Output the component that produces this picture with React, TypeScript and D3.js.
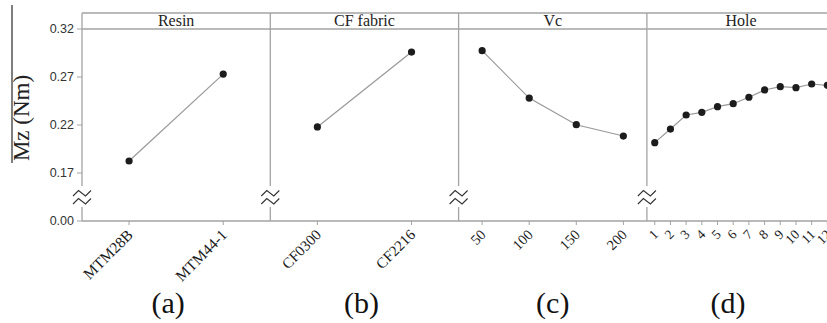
import React from "react";
import * as d3 from "d3";

const resinLevels = ["MTM28B", "MTM44-1"];
const resinMz = [0.1825, 0.273];
const fabricLevels = ["CF0300", "CF2216"];
const fabricMz = [0.218, 0.296];
const vcLevels = ["50", "100", "150", "200"];
const vcMz = [0.2974, 0.248, 0.2203, 0.2085];
const holeLevels = ["1", "2", "3", "4", "5", "6", "7", "8", "9", "10", "11", "12"];
const holeMz = [0.2016, 0.2158, 0.2304, 0.2332, 0.2391, 0.2422, 0.2489, 0.2565, 0.2599, 0.2589, 0.2627, 0.2613];
const panelTitles = ["Resin", "CF fabric", "Vc", "Hole"];
const panelTags = ["(a)", "(b)", "(c)", "(d)"];
const yTicks = [0.17, 0.22, 0.27, 0.32];
const yBreakTick = "0.00";

const W = 827;
const H = 323;
const left = 82;
const panelW = 188.3;
const top = 13;
const headerBottom = 29;
const axisY = 221;
const breakY = 197;
const tagOffsets = [-8, -3, 0, -13];
const frame = "#a3a3a3";

export default function App() {
  const y = d3.scaleLinear().domain([0.17, 0.32]).range([173, 29]);
  const panels = [
    { levels: resinLevels, values: resinMz, fs: 15.5 },
    { levels: fabricLevels, values: fabricMz, fs: 15 },
    { levels: vcLevels, values: vcMz, fs: 14.5 },
    { levels: holeLevels, values: holeMz, fs: 13.5 },
  ];
  const line = d3.line<[number, number]>().x((d) => d[0]).y((d) => d[1]);

  const zig = (x: number, yc: number) =>
    `M${x - 9},${yc + 3} L${x - 3.5},${yc - 2.5} L${x + 3.5},${yc + 3} L${x + 9},${yc - 2.5}`;

  return (
    <svg
      width={W}
      height={H}
      style={{ position: "absolute", left: 0, top: 0, background: "#fff" }}
      fontFamily="'Liberation Serif', 'Times New Roman', serif"
    >
      <rect width={W} height={H} fill="#fff" />
      <line x1={12} x2={12} y1={5} y2={163} stroke="#555" strokeWidth={1.5} />
      <text
        transform={`translate(29,${118}) rotate(-90)`}
        textAnchor="middle"
        fontSize={23}
        fill="#222"
      >
        Mz (Nm)
      </text>
      {yTicks.map((t) => (
        <g key={t}>
          <line x1={77} x2={left} y1={y(t)} y2={y(t)} stroke={frame} />
          <text
            x={74}
            y={y(t)}
            dy="0.35em"
            textAnchor="end"
            fontSize={12.5}
            fontFamily="'Liberation Sans', Arial, sans-serif"
            fill="#333"
          >
            {t.toFixed(2)}
          </text>
        </g>
      ))}
      <line x1={77} x2={left} y1={axisY} y2={axisY} stroke={frame} />
      <text
        x={74}
        y={axisY}
        dy="0.35em"
        textAnchor="end"
        fontSize={12.5}
        fontFamily="'Liberation Sans', Arial, sans-serif"
        fill="#333"
      >
        {yBreakTick}
      </text>
      <line x1={left} x2={W} y1={top} y2={top} stroke={frame} strokeWidth={1.3} />
      <line x1={left} x2={W} y1={headerBottom} y2={headerBottom} stroke={frame} strokeWidth={1.3} />
      <line x1={left} x2={W} y1={axisY} y2={axisY} stroke={frame} strokeWidth={1.3} />
      {panels.map((p, i) => {
        const x0 = left + i * panelW;
        const x = d3.scalePoint<string>().domain(p.levels).range([x0, x0 + panelW]).padding(0.5);
        const pts: [number, number][] = p.levels.map((l, j) => [x(l) as number, y(p.values[j])]);
        return (
          <g key={i}>
            <line x1={x0} x2={x0} y1={top} y2={breakY - 11} stroke={frame} strokeWidth={1.3} />
            <line x1={x0} x2={x0} y1={breakY + 10} y2={axisY} stroke={frame} strokeWidth={1.3} />
            <path d={zig(x0, breakY - 4)} fill="none" stroke="#333" strokeWidth={1.1} />
            <path d={zig(x0, breakY + 4)} fill="none" stroke="#333" strokeWidth={1.1} />
            <text x={x0 + panelW / 2} y={26} textAnchor="middle" fontSize={16} fill="#222">
              {panelTitles[i]}
            </text>
            <path d={line(pts) || ""} fill="none" stroke="#999" strokeWidth={1.2} />
            {pts.map((pt, j) => (
              <circle key={j} cx={pt[0]} cy={pt[1]} r={3.6} fill="#1c1c1c" />
            ))}
            {p.levels.map((l) => (
              <g key={l}>
                <line x1={x(l)} x2={x(l)} y1={axisY} y2={axisY + 4} stroke={frame} />
                <text
                  transform={`translate(${x(l)! + 1},${232}) rotate(-45)`}
                  textAnchor="end"
                  dy="0.35em"
                  fontSize={p.fs}
                  fill="#1a1a1a"
                >
                  {l}
                </text>
              </g>
            ))}
            <text x={x0 + panelW / 2 + tagOffsets[i]} y={313} textAnchor="middle" fontSize={30} fill="#111">
              {panelTags[i]}
            </text>
          </g>
        );
      })}
    </svg>
  );
}
